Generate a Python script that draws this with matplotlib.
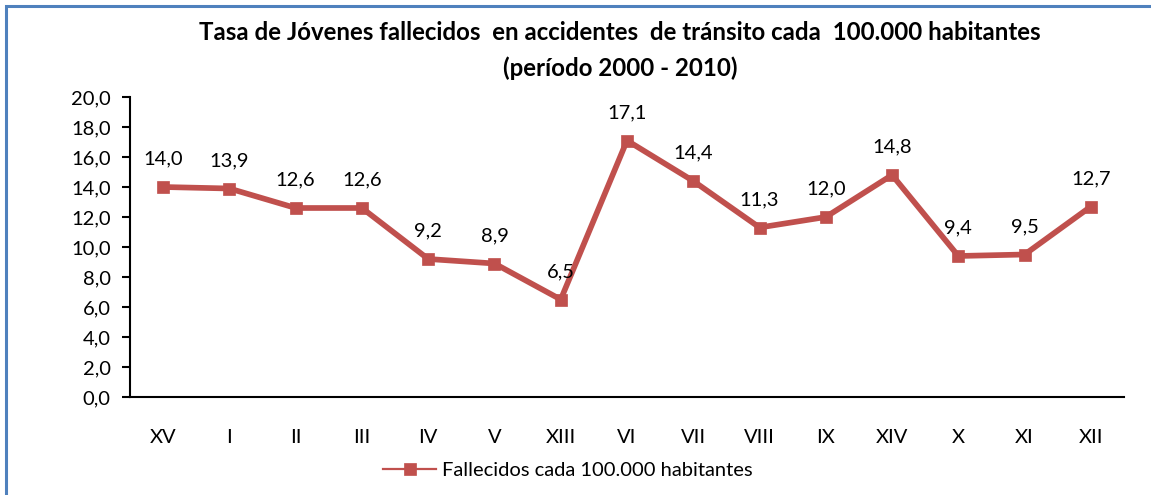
import matplotlib
matplotlib.use('Agg')
import matplotlib.pyplot as plt
from matplotlib.patches import Rectangle
from matplotlib.lines import Line2D
from matplotlib.ticker import FuncFormatter

# Datos
regiones = ["XV", "I", "II", "III", "IV", "V", "XIII", "VI", "VII",
            "VIII", "IX", "XIV", "X", "XI", "XII"]
tasas = [14.0, 13.9, 12.6, 12.6, 9.2, 8.9, 6.5, 17.1, 14.4,
         11.3, 12.0, 14.8, 9.4, 9.5, 12.7]
y_ticks = [0, 2, 4, 6, 8, 10, 12, 14, 16, 18, 20]

RED = '#C0504D'
plt.rcParams['font.family'] = ['Lato', 'DejaVu Sans']

fig = plt.figure(figsize=(11.51, 4.95), dpi=100)
W, H = 1151, 495

# marco azul (recortado a la derecha y abajo)
fig.patches.append(Rectangle((6 / W, -0.05), 1.2, 1 - 6 / H + 0.05,
                             transform=fig.transFigure, fill=False,
                             edgecolor='#4F81BD', linewidth=2.2))

ax = fig.add_axes([130 / W, 1 - 397 / H, (1124 - 130) / W, 300 / H])
x = range(len(regiones))
ax.plot(x, tasas, color=RED, linewidth=4.1, marker='s',
        markersize=8.5, markeredgewidth=0.5)

for i, v in enumerate(tasas):
    ax.annotate(f"{v:.1f}".replace('.', ','), (i, v), xytext=(0, 20),
                textcoords='offset points', ha='center', va='center',
                fontsize=14.5)

ax.set_xlim(-0.5, len(regiones) - 0.5)
ax.set_ylim(0, 20)
ax.set_yticks(y_ticks)
ax.yaxis.set_major_formatter(FuncFormatter(lambda v, p: f"{v:.1f}".replace('.', ',')))
ax.set_xticks(list(x))
ax.set_xticklabels(regiones)
ax.tick_params(axis='y', direction='out', length=6, width=1.5, labelsize=14.5, pad=8)
ax.tick_params(axis='x', length=0, labelsize=14.5, pad=23)
for s in ['top', 'right']:
    ax.spines[s].set_visible(False)
for s in ['left', 'bottom']:
    ax.spines[s].set_linewidth(1.5)

fig.text(620 / W, 1 - 33 / H, 'Tasa de Jóvenes fallecidos  en accidentes  de tránsito cada  100.000 habitantes',
         ha='center', va='center', fontsize=17.3, fontweight='bold')
fig.text(620 / W, 1 - 68 / H, '(período 2000 - 2010)',
         ha='center', va='center', fontsize=17.3, fontweight='bold')

handle = Line2D([], [], color=RED, linewidth=1.6, marker='s', markersize=9,
                markeredgewidth=0.5)
fig.legend(handles=[handle], labels=['Fallecidos cada 100.000 habitantes'],
           loc='center', bbox_to_anchor=(568 / W, 1 - 470 / H),
           frameon=False, fontsize=14.5, handlelength=2.6, handletextpad=0.3)

fig.savefig('out.png', dpi=100)
